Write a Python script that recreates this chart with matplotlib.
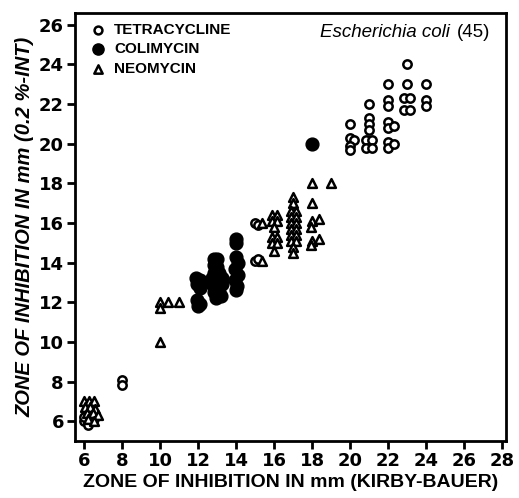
import matplotlib
matplotlib.use("Agg")
import matplotlib.pyplot as plt

# ---- data ----
tet_x = [6.0, 6.2, 6.0, 6.4, 6.2, 6.5,
         8.0, 8.0,
         15.0, 15.15, 15.0, 15.15,
         20.0, 20.0, 20.2, 20.0, 20.0,
         21.0, 21.0, 21.0, 21.0, 20.85, 21.15, 20.85, 21.15,
         22.0, 22.0, 22.3, 22.0, 22.0, 22.3, 22.0, 22.0, 22.0,
         23.0, 23.0, 22.85, 23.15, 22.85, 23.15,
         24.0, 24.0, 24.0]
tet_y = [6.0, 6.0, 6.2, 6.0, 5.8, 6.1,
         8.1, 7.8,
         16.0, 15.9, 14.1, 14.2,
         21.0, 20.3, 20.2, 19.9, 19.7,
         22.0, 21.3, 21.0, 20.7, 20.2, 20.2, 19.8, 19.8,
         21.1, 20.8, 20.9, 20.1, 19.8, 20.0, 23.0, 22.2, 21.9,
         24.0, 23.0, 22.3, 22.3, 21.7, 21.7,
         23.0, 22.2, 21.9]

col_x = [11.85, 12.1, 11.9, 12.1, 11.9, 12.1, 12.0,
         12.8, 13.0, 12.8, 13.0, 12.8, 13.1, 12.7, 13.0, 13.25, 12.7, 13.0, 13.25,
         12.8, 13.1, 12.9, 13.2,
         14.0, 14.0, 14.0, 14.1, 13.95, 14.1, 13.95, 14.05, 14.0,
         18.0]
col_y = [13.2, 13.1, 12.9, 12.7, 12.1, 11.9, 11.8,
         14.2, 14.2, 13.9, 13.8, 13.5, 13.5, 13.2, 13.2, 13.2, 12.9, 12.8, 12.9,
         12.5, 12.5, 12.2, 12.3,
         15.2, 15.0, 14.3, 14.0, 13.7, 13.4, 13.1, 12.8, 12.6,
         20.0]

neo_x = [6.0, 6.25, 6.5, 6.05, 6.3, 6.55, 6.15, 6.45, 6.7, 6.2, 6.5,
         10.0, 10.0, 10.4, 11.0, 10.0,
         15.35, 15.35,
         15.85, 16.15, 15.85, 16.15, 16.0, 15.85, 16.15, 15.85, 16.15, 16.0,
         17.0, 17.0, 16.85, 17.15, 16.85, 17.15, 16.85, 17.15, 16.85, 17.15,
         16.85, 17.15, 16.85, 17.15, 17.0, 17.0,
         18.0, 18.0, 18.0, 18.35, 17.95, 18.0, 18.35, 17.95,
         19.0]
neo_y = [7.0, 7.0, 7.0, 6.7, 6.7, 6.6, 6.4, 6.4, 6.3, 6.1, 6.0,
         12.0, 11.7, 12.0, 12.0, 10.0,
         16.0, 14.1,
         16.4, 16.4, 16.1, 16.1, 15.8, 15.3, 15.3, 15.0, 15.0, 14.6,
         17.3, 17.0, 16.6, 16.6, 16.3, 16.3, 16.0, 16.0, 15.7, 15.7,
         15.4, 15.4, 15.1, 15.1, 14.8, 14.5,
         18.0, 17.0, 16.1, 16.2, 15.8, 15.1, 15.2, 14.9,
         18.0]

xticks = [6, 8, 10, 12, 14, 16, 18, 20, 22, 24, 26, 28]
yticks = [6, 8, 10, 12, 14, 16, 18, 20, 22, 24, 26]

series_labels = ["TETRACYCLINE", "COLIMYCIN", "NEOMYCIN"]
title_text = "Escherichia coli"
title_n = "(45)"
xlabel = "ZONE OF INHIBITION IN mm (KIRBY-BAUER)"
ylabel = "ZONE OF INHIBITION IN mm (0.2 %-INT)"

# ---- figure ----
plt.rcParams['font.family'] = ['Liberation Sans', 'DejaVu Sans']
fig = plt.figure(figsize=(5.19, 4.98), dpi=100)
ax = fig.add_axes([0.1445, 0.1145, 0.8305, 0.8595])

ax.scatter(tet_x, tet_y, s=36, marker='o', facecolor='white', edgecolor='black',
           linewidth=1.8, zorder=3)
ax.scatter(col_x, col_y, s=85, marker='o', facecolor='black', edgecolor='black',
           linewidth=1.0, zorder=3)
ax.scatter(neo_x, neo_y, s=40, marker='^', facecolor='white', edgecolor='black',
           linewidth=1.8, zorder=3)

ax.set_xlim(5.5, 28.2)
ax.set_ylim(5.0, 26.6)
ax.set_xticks(xticks)
ax.set_yticks(yticks)
ax.tick_params(direction='out', length=6, width=2, pad=2)
for lab in ax.get_xticklabels() + ax.get_yticklabels():
    lab.set_fontweight('bold')
    lab.set_fontfamily('DejaVu Sans')
    lab.set_fontsize(13)
for sp in ax.spines.values():
    sp.set_linewidth(2)

ax.set_xlabel(xlabel, fontsize=14, fontweight='bold', labelpad=3)
ax.set_ylabel(ylabel, fontsize=14.5, fontweight='bold', style='italic', labelpad=3)

# legend drawn manually in axes coordinates
leg_x = 0.053
leg_ys = [0.96, 0.915, 0.868]
ax.scatter([leg_x], [leg_ys[0]], s=32, marker='o', facecolor='white', edgecolor='black',
           linewidth=1.8, transform=ax.transAxes, clip_on=False)
ax.scatter([leg_x], [leg_ys[1]], s=65, marker='o', facecolor='black', edgecolor='black',
           transform=ax.transAxes, clip_on=False)
ax.scatter([leg_x], [leg_ys[2]], s=36, marker='^', facecolor='white', edgecolor='black',
           linewidth=1.8, transform=ax.transAxes, clip_on=False)
for lab, yy in zip(series_labels, leg_ys):
    ax.text(leg_x + 0.038, yy, lab, transform=ax.transAxes, fontsize=11,
            fontweight='bold', va='center', ha='left')

ax.text(0.87, 0.955, title_text, transform=ax.transAxes, fontsize=13.5,
        style='italic', va='center', ha='right')
ax.text(0.885, 0.955, title_n, transform=ax.transAxes, fontsize=13.5,
        va='center', ha='left')

fig.savefig("out.png", dpi=100)
